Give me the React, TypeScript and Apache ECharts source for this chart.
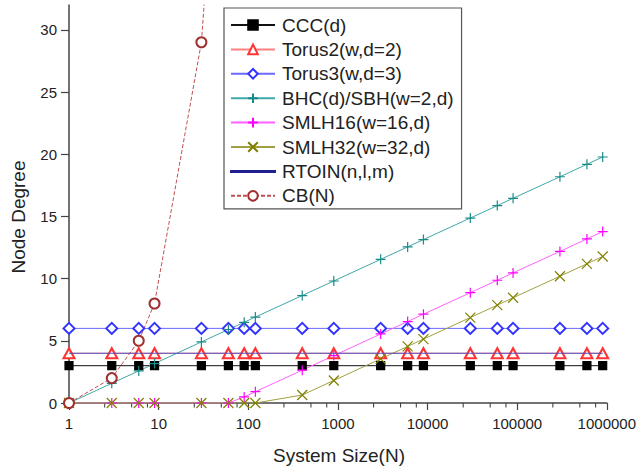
import React, { useEffect, useRef } from "react";
import * as echarts from "echarts";

const SYSTEM_SIZES = [1, 3, 6, 9, 30, 60, 90, 120, 400, 900, 3000, 6000, 9000, 30000, 60000, 90000, 300000, 600000, 900000];
const CCC = [3, 3, 3, 3, 3, 3, 3, 3, 3, 3, 3, 3, 3, 3, 3, 3, 3, 3, 3];
const TORUS2 = [4, 4, 4, 4, 4, 4, 4, 4, 4, 4, 4, 4, 4, 4, 4, 4, 4, 4, 4];
const TORUS3 = [6, 6, 6, 6, 6, 6, 6, 6, 6, 6, 6, 6, 6, 6, 6, 6, 6, 6, 6];
const BHC = [0, 1.58, 2.58, 3.17, 4.91, 5.91, 6.49, 6.91, 8.64, 9.81, 11.55, 12.55, 13.14, 14.87, 15.87, 16.46, 18.19, 19.19, 19.78];
const SMLH16 = [0, 0, 0, 0, 0, 0, 0.49, 0.91, 2.64, 3.81, 5.55, 6.55, 7.14, 8.87, 9.87, 10.46, 12.19, 13.19, 13.78];
const SMLH32 = [0, 0, 0, 0, 0, 0, 0, 0, 0.64, 1.81, 3.55, 4.55, 5.14, 6.87, 7.87, 8.46, 10.19, 11.19, 11.78];
const RTOIN = [4, 4, 4, 4, 4, 4, 4, 4, 4, 4, 4, 4, 4, 4, 4, 4, 4, 4, 4];
const CB_SIZES = [1, 3, 6, 9, 30, 60];
const CB = [0, 2, 5, 8, 29, 59];

const Y_TICKS = [0, 5, 10, 15, 20, 25, 30];
const X_MINOR_TICKS = [2.5, 5, 7.5, 25, 50, 75, 250, 500, 750, 2500, 5000, 7500, 25000, 50000, 75000, 250000, 500000, 750000];

const FONT = "'Liberation Sans', Arial, sans-serif";
const PLUS = "path://M5,0L5,10M0,5L10,5";
const CROSS = "path://M0,0L10,10M10,0L0,10";
const LINE_ICON = "path://M0,0L44,0L44,1L0,1Z";

function pairs(xs: number[], ys: number[]) {
  return xs.map((x, i) => [x, ys[i]]);
}

export default function App() {
  const ref = useRef<HTMLDivElement>(null);
  useEffect(() => {
    const chart = echarts.init(ref.current!, null, { renderer: "svg" });
    const mk = (
      name: string,
      ys: number[],
      xs: number[],
      symbol: string,
      size: number | number[],
      marker: string,
      line: string,
      extra: any = {}
    ) => ({
      name,
      type: "line",
      data: pairs(xs, ys),
      symbol,
      symbolSize: size,
      showSymbol: extra.showSymbol !== false,
      itemStyle: { color: marker, borderColor: marker, borderWidth: 1.2 },
      lineStyle: { color: line, width: 1, ...(extra.lineStyle || {}) },
      emphasis: { disabled: true },
      z: extra.z || 2,
    });
    const titles = [
      {
        type: "text",
        x: 18,
        y: 217,
        rotation: Math.PI / 2,
        style: {
          text: "Node Degree",
          fontSize: 19,
          fontFamily: FONT,
          fill: "#222",
          align: "center",
          verticalAlign: "middle",
        },
      },
      {
        type: "text",
        x: 339,
        y: 455,
        style: {
          text: "System Size(N)",
          fontSize: 19,
          fontFamily: FONT,
          fill: "#222",
          align: "center",
          verticalAlign: "middle",
        },
      },
    ];
    chart.setOption({
      animation: false,
      textStyle: { fontFamily: FONT },
      grid: { left: 69, right: 30, top: 5, bottom: 67, containLabel: false },
      legend: {
        orient: "vertical",
        left: 224,
        top: 8,
        padding: [7, 8, 3, 6],
        borderColor: "#555",
        borderWidth: 1.2,
        backgroundColor: "#fff",
        itemWidth: 44,
        itemHeight: 12,
        itemGap: 4.4,
        textStyle: { fontSize: 19, lineHeight: 20, color: "#222", fontFamily: FONT, padding: [0, 0, 0, 2] },
        data: [
          "CCC(d)",
          "Torus2(w,d=2)",
          "Torus3(w,d=3)",
          "BHC(d)/SBH(w=2,d)",
          "SMLH16(w=16,d)",
          "SMLH32(w=32,d)",
          { name: "RTOIN(n,l,m)", icon: LINE_ICON },
          "CB(N)",
        ],
      },
      xAxis: {
        type: "log",
        logBase: 10,
        min: 1,
        max: 1000000,
        axisLine: { lineStyle: { color: "#444", width: 1.5 } },
        axisTick: { length: 7, lineStyle: { color: "#444", width: 1.2 } },
        axisLabel: {
          fontSize: 15,
          color: "#222",
          margin: 13,
          fontFamily: FONT,
          formatter: (v: number) => String(Math.round(v)),
        },
        splitLine: { show: false },
        minorTick: { show: false },
      },
      yAxis: {
        type: "value",
        min: 0,
        max: 32,
        axisLine: { show: true, lineStyle: { color: "#444", width: 1.5 } },
        axisTick: { show: true, length: 8, customValues: Y_TICKS, lineStyle: { color: "#444", width: 1.2 } },
        axisLabel: { fontSize: 15, color: "#222", margin: 12, fontFamily: FONT, customValues: Y_TICKS },
        splitLine: { show: false },
      },
      graphic: titles,
      series: [
        mk("CCC(d)", CCC, SYSTEM_SIZES, "rect", 8, "#000", "#111"),
        mk("Torus2(w,d=2)", TORUS2, SYSTEM_SIZES, "emptyTriangle", [11, 10], "#ff3333", "#ff8080"),
        mk("Torus3(w,d=3)", TORUS3, SYSTEM_SIZES, "emptyDiamond", 11, "#3333ff", "#6a6aff"),
        mk("BHC(d)/SBH(w=2,d)", BHC, SYSTEM_SIZES, PLUS, 10, "#1a8a8a", "#40a8a8"),
        mk("SMLH16(w=16,d)", SMLH16, SYSTEM_SIZES, PLUS, 10, "#ff00ff", "#ff60ff"),
        mk("SMLH32(w=32,d)", SMLH32, SYSTEM_SIZES, CROSS, 10, "#808000", "#a0a040"),
        mk("RTOIN(n,l,m)", RTOIN, SYSTEM_SIZES, "circle", 4, "#202090", "#5050c0", { z: 3, showSymbol: false }),
        mk("CB(N)", CB, CB_SIZES, "emptyCircle", 10, "#a03030", "#c05050", { lineStyle: { type: [4, 2] } }),
      ],
    });
    const minor = X_MINOR_TICKS.map((v) => {
      const p = chart.convertToPixel({ gridIndex: 0 }, [v, 0]) as number[];
      return {
        type: "line",
        silent: true,
        shape: { x1: p[0], y1: p[1], x2: p[0], y2: p[1] + 4.5 },
        style: { stroke: "#444", lineWidth: 1.1 },
      };
    });
    chart.setOption({ graphic: [...titles, ...minor] });
    return () => chart.dispose();
  }, []);
  return <div ref={ref} style={{ position: "fixed", left: 0, top: 0, width: 639, height: 470, background: "#fff" }} />;
}
